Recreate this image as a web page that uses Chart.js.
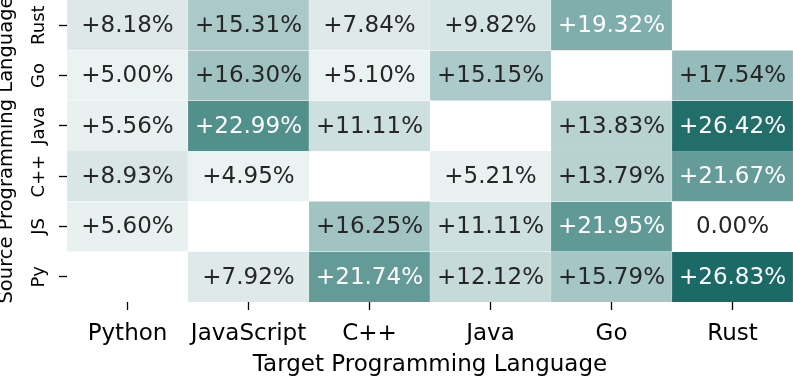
<!DOCTYPE html>
<html>
<head>
<meta charset="utf-8">
<script src="https://cdn.jsdelivr.net/npm/chart.js@4/dist/chart.umd.min.js"></script>
<style>
  body { margin: 0; background: #fff; }
</style>
</head>
<body>
<canvas id="heat" width="793" height="382"></canvas>
<script>
// target languages (columns) and source languages (rows, top to bottom)
const targets = ['Python', 'JavaScript', 'C++', 'Java', 'Go', 'Rust'];
const sources = ['Rust', 'Go', 'Java', 'C++', 'JS', 'Py'];

// improvement in %, null = diagonal (no value)
const rustRow = [8.18, 15.31, 7.84, 9.82, 19.32, null];
const goRow   = [5.00, 16.30, 5.10, 15.15, null, 17.54];
const javaRow = [5.56, 22.99, 11.11, null, 13.83, 26.42];
const cppRow  = [8.93, 4.95, null, 5.21, 13.79, 21.67];
const jsRow   = [5.60, null, 16.25, 11.11, 21.95, 0.00];
const pyRow   = [null, 7.92, 21.74, 12.12, 15.79, 26.83];

const rows = [rustRow, goRow, javaRow, cppRow, jsRow, pyRow];

// colour ramp (value -> rgb)
const stops = [
  [0, [255, 255, 255]],
  [5, [234, 242, 242]],
  [8, [223, 233, 233]],
  [11, [207, 224, 224]],
  [13.8, [184, 210, 210]],
  [15.5, [168, 200, 199]],
  [17.5, [149, 188, 187]],
  [19.3, [128, 174, 173]],
  [21.8, [99, 154, 151]],
  [23, [82, 144, 140]],
  [26.83, [27, 106, 103]]
];

function cellColor(v) {
  if (v == null) return 'rgba(0,0,0,0)';
  for (let k = 1; k < stops.length; k++) {
    if (v <= stops[k][0]) {
      const a = stops[k - 1], b = stops[k];
      const t = (v - a[0]) / (b[0] - a[0]);
      const c = a[1].map((x, i) => Math.round(x + (b[1][i] - x) * t));
      return 'rgb(' + c.join(',') + ')';
    }
  }
  return 'rgb(' + stops[stops.length - 1][1].join(',') + ')';
}

const FONT = 'DejaVu Sans';

const datasets = rows.map((vals, i) => ({
  label: sources[i],
  vals: vals,
  data: vals.map(v => v == null ? null : [5 - i, 6 - i]),
  backgroundColor: ctx => cellColor(ctx.dataset.vals[ctx.dataIndex]),
  borderColor: '#ffffff',
  borderWidth: 0.4,
  borderSkipped: false,
  grouped: false,
  barPercentage: 1,
  categoryPercentage: 1
}));

const annotate = {
  id: 'annotate',
  afterDatasetsDraw(chart) {
    const ctx = chart.ctx;
    ctx.save();
    ctx.font = '23px "' + FONT + '"';
    ctx.textAlign = 'center';
    ctx.textBaseline = 'middle';
    chart.data.datasets.forEach((ds, i) => {
      const meta = chart.getDatasetMeta(i);
      meta.data.forEach((el, j) => {
        const v = ds.vals[j];
        if (v == null) return;
        const txt = (v > 0 ? '+' : '') + v.toFixed(2) + '%';
        ctx.fillStyle = v > 18 ? '#ffffff' : '#262626';
        ctx.fillText(txt, el.x, (el.y + el.base) / 2 + 1);
      });
    });
    ctx.restore();
  },
  afterDraw(chart) {
    const ctx = chart.ctx;
    const ys = chart.scales.y;
    ctx.save();
    ctx.fillStyle = '#000';
    ctx.textAlign = 'center';
    ctx.textBaseline = 'middle';
    ctx.font = '18px "' + FONT + '"';
    sources.forEach((s, i) => {
      const y = ys.getPixelForValue(5.5 - i);
      ctx.save();
      ctx.translate(39, y);
      ctx.rotate(-Math.PI / 2);
      ctx.fillText(s, 0, 0);
      ctx.restore();
    });
    ctx.font = '19.5px "' + FONT + '"';
    ctx.translate(7, 150);
    ctx.rotate(-Math.PI / 2);
    ctx.fillText('Source Programming Language', 0, 0);
    ctx.restore();
  }
};

new Chart(document.getElementById('heat'), {
  type: 'bar',
  data: { labels: targets, datasets: datasets },
  options: {
    responsive: false,
    animation: false,
    layout: { padding: 0 },
    plugins: {
      legend: { display: false },
      tooltip: { enabled: false }
    },
    scales: {
      x: {
        offset: true,
        border: { display: false },
        grid: {
          display: true,
          offset: false,
          drawOnChartArea: false,
          drawTicks: true,
          tickLength: 8,
          tickWidth: 1.3,
          tickColor: '#000'
        },
        ticks: {
          color: '#000',
          font: { family: FONT, size: 23 },
          padding: 10,
          maxRotation: 0,
          autoSkip: false
        },
        title: {
          display: true,
          text: 'Target Programming Language',
          color: '#000',
          font: { family: FONT, size: 23 },
          padding: { top: 0, bottom: 3 }
        },
        afterFit: s => { s.height = 80; }
      },
      y: {
        min: 0,
        max: 6,
        border: { display: false },
        afterBuildTicks: s => { s.ticks = [0.5, 1.5, 2.5, 3.5, 4.5, 5.5].map(v => ({ value: v })); },
        grid: {
          display: true,
          drawOnChartArea: false,
          drawTicks: true,
          tickLength: 8,
          tickWidth: 1.3,
          tickColor: '#000'
        },
        ticks: { display: false },
        afterFit: s => { s.width = 67; }
      }
    }
  },
  plugins: [annotate]
});
</script>
</body>
</html>
